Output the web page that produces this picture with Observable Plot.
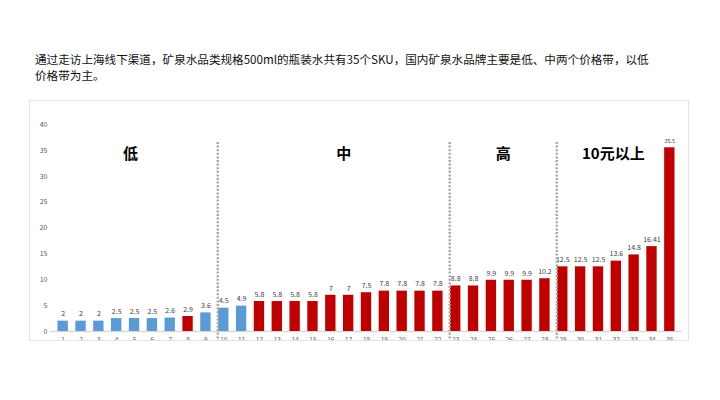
<!DOCTYPE html>
<html>
<head>
<meta charset="utf-8">
<script src="https://cdn.jsdelivr.net/npm/d3@7"></script>
<script src="https://cdn.jsdelivr.net/npm/@observablehq/plot@0.6"></script>
<style>
  html, body { margin: 0; padding: 0; background: #fff; }
  body { width: 720px; height: 400px; position: relative; overflow: hidden; font-family: "Noto Sans CJK SC", sans-serif; }
  #title { position: absolute; left: 35px; top: 52px; font-size: 11.6px; line-height: 15.5px; color: #111; white-space: nowrap; }
  #frame { position: absolute; left: 29px; top: 100px; width: 658px; height: 239px; border: 1px solid #e3e3e3; overflow: hidden; background: #fff; }
  #frame svg { display: block; overflow: hidden; }
</style>
</head>
<body>
<div id="title">通过走访上海线下渠道，矿泉水品类规格500ml的瓶装水共有35个SKU，国内矿泉水品牌主要是低、中两个价格带，以低<br>价格带为主。</div>
<div id="frame"></div>
<script>
// SKU index labels (x axis)
const skuLabels = ["1","2","3","4","5","6","7","8","9","10","11","12","13","14","15","16","17","18","19","20","21","22","23","24","25","26","27","28","29","30","31","32","33","34","35"];
// Price per 500ml bottle (yuan)
const prices = [2,2,2,2.5,2.5,2.5,2.6,2.9,3.6,4.5,4.9,5.8,5.8,5.8,5.8,7,7,7.5,7.8,7.8,7.8,7.8,8.8,8.8,9.9,9.9,9.9,10.2,12.5,12.5,12.5,13.6,14.8,16.41,35.5];
// Bar colour group: A = blue, B = red
const colorGroup = ["A","A","A","A","A","A","A","B","A","A","A","B","B","B","B","B","B","B","B","B","B","B","B","B","B","B","B","B","B","B","B","B","B","B","B"];
// Price band labels and the SKU they sit above
const bandLabels = ["低","中","高","10元以上"];
const bandAnchor = ["5","17","26","32"];
const bandDx = [-4, -5, -6, -3];
// First SKU of each new price band (dotted separators)
const dividers = ["10","23","29"];
const yTicks = [0,5,10,15,20,25,30,35,40];

const data = skuLabels.map((s, i) => ({sku: s, price: prices[i], grp: colorGroup[i]}));
const bands = bandLabels.map((t, i) => ({label: t, sku: bandAnchor[i], dx: bandDx[i]}));

const chart = Plot.plot({
  width: 658,
  height: 239,
  marginTop: 23,
  marginBottom: 9,
  marginLeft: 20,
  marginRight: 6,
  style: {fontFamily: "'Noto Sans CJK SC', sans-serif", background: "#fff", color: "#595959"},
  x: {domain: skuLabels, padding: 0.42, round: false, label: null},
  y: {domain: [0, 40], label: null},
  color: {domain: ["A","B"], range: ["#5b9bd5", "#c00000"]},
  marks: [
    Plot.ruleY([0], {stroke: "#d9d9d9", strokeWidth: 1.5}),
    Plot.barY(data, {x: "sku", y: "price", fill: "grp"}),
    Plot.text(data, {x: "sku", y: "price", text: d => String(d.price), dy: -7, fill: "#404040",
      fontSize: d => d.price > 30 ? 5.5 : 7}),
    Plot.ruleX(dividers, {x: d => d, dx: -6, stroke: "#a6a6a6", strokeWidth: 2.4, strokeDasharray: "2,1.6", insetTop: 18, insetBottom: -12}),
    ...bands.map(b => Plot.text([b], {x: "sku", frameAnchor: "top", dy: 30, dx: b.dx, text: "label", fontSize: 15, fontWeight: "bold", fill: "#000", lineAnchor: "middle"})),
    Plot.axisY({ticks: yTicks, tickSize: 0, tickPadding: 3, fontSize: 7, fill: "#595959"}),
    Plot.axisX({tickSize: 0, tickPadding: 6, fontSize: 6.5, fill: "#595959"})
  ]
});
document.getElementById("frame").appendChild(chart);
</script>
</body>
</html>
